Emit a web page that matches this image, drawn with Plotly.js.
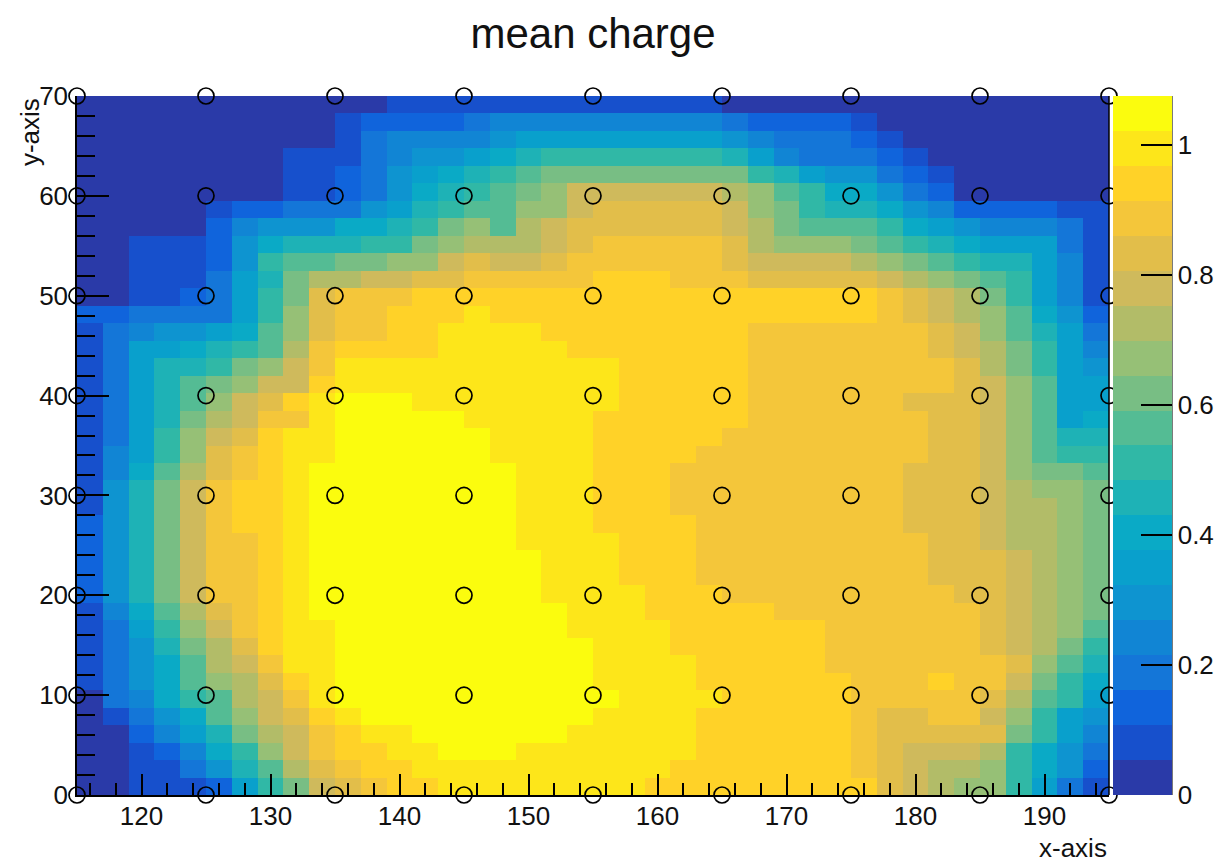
<!DOCTYPE html>
<html>
<head>
<meta charset="utf-8">
<script src="https://cdn.plot.ly/plotly-3.0.1.min.js"></script>
<style>html,body{margin:0;padding:0;background:#fff}#plot{width:1224px;height:862px}</style>
</head>
<body>
<div id="plot"></div>
<script>
// Palette band for every cell, top row of the picture first.
var bandRows = [
[0,0,0,0,0,0,0,0,0,0,0,0,1,1,1,1,1,1,1,1,1,1,1,1,1,0,0,0,0,0,0,0,0,0,0,0,0,0,0,0],
[0,0,0,0,0,0,0,0,0,0,1,2,2,2,2,3,4,4,4,4,4,4,4,4,4,3,2,2,2,2,1,0,0,0,0,0,0,0,0,0],
[0,0,0,0,0,0,0,0,0,0,1,3,4,4,4,4,5,6,6,6,6,6,6,6,6,5,4,3,3,3,2,1,0,0,0,0,0,0,0,0],
[0,0,0,0,0,0,0,0,1,1,1,3,4,5,5,6,7,8,9,9,9,9,9,9,9,8,6,4,3,3,3,2,1,0,0,0,0,0,0,0],
[0,0,0,0,0,0,0,0,1,1,2,3,5,6,7,8,9,10,11,11,11,11,11,11,11,11,9,8,6,5,5,3,2,1,0,0,0,0,0,0],
[0,0,0,0,0,0,0,0,1,1,2,3,5,7,8,9,10,11,12,14,14,14,14,14,14,13,12,10,9,7,7,5,3,2,0,0,0,0,0,0],
[0,0,0,0,0,1,2,2,3,3,3,5,6,8,9,10,10,12,12,14,15,15,15,15,15,14,12,11,9,8,8,7,5,4,2,2,2,2,1,1],
[0,0,0,0,0,2,4,5,5,5,7,7,8,9,11,12,10,13,14,15,15,15,15,15,15,14,13,11,10,10,10,9,7,6,5,4,4,4,3,1],
[0,0,1,1,1,2,5,7,8,8,8,9,9,11,12,13,13,13,14,15,16,16,16,16,16,15,13,12,12,12,11,10,9,8,7,6,6,6,3,1],
[0,0,1,1,1,2,5,9,10,10,11,11,12,12,14,15,14,14,15,16,16,16,16,16,16,15,14,14,14,14,13,12,11,10,9,8,8,6,4,1],
[0,0,1,1,1,3,6,8,11,13,13,14,14,15,15,16,16,16,16,16,17,17,17,16,16,16,15,15,15,15,15,14,13,12,11,10,9,6,4,1],
[0,0,1,1,2,3,6,9,11,15,16,16,16,17,17,17,17,17,17,17,17,17,17,17,17,17,17,17,17,17,17,16,15,14,13,11,9,6,4,1],
[2,2,3,3,3,3,6,9,12,15,16,16,17,17,17,18,17,17,17,17,17,17,17,17,17,17,17,17,17,17,17,16,15,14,13,12,10,7,5,2],
[1,3,4,5,5,6,7,10,12,15,16,16,17,17,18,18,18,18,17,17,17,17,17,17,17,17,16,16,16,16,16,16,16,15,14,12,10,8,6,3],
[1,3,6,6,7,8,9,10,13,16,17,17,17,17,18,18,18,18,18,17,17,17,17,17,17,17,16,16,16,16,16,16,16,15,14,13,11,9,6,4],
[1,3,6,8,8,9,11,12,14,16,18,18,18,18,18,18,18,18,18,18,18,17,17,17,17,17,16,16,16,16,16,16,16,16,15,13,11,9,6,5],
[1,3,6,8,10,11,12,14,14,17,18,18,18,18,18,18,18,18,18,18,18,17,17,17,17,17,16,16,16,16,16,16,16,16,15,14,12,10,6,6],
[1,3,6,8,10,12,14,15,17,18,19,19,19,18,18,18,18,18,18,18,18,17,17,17,17,17,16,16,16,16,16,16,15,15,15,14,12,10,6,6],
[1,3,6,8,11,13,14,16,16,18,19,19,19,19,19,18,18,18,18,18,17,17,17,17,17,17,16,16,16,16,16,16,16,15,15,14,12,10,6,7],
[1,3,6,9,12,14,15,17,18,18,19,19,19,19,19,19,18,18,18,18,17,17,17,17,17,16,16,16,16,16,16,16,16,15,15,14,12,10,8,8],
[1,4,6,9,12,15,16,17,18,18,19,19,19,19,19,19,18,18,18,18,17,17,17,17,16,16,16,16,16,16,16,16,16,15,15,14,12,10,9,9],
[1,4,7,10,13,15,16,17,18,19,19,19,19,19,19,19,19,18,18,18,17,17,17,16,16,16,16,16,16,16,16,16,15,15,15,14,12,11,11,10],
[1,5,8,11,14,16,17,17,18,19,19,19,19,19,19,19,19,18,18,18,17,17,17,16,16,16,16,16,16,16,16,16,15,15,15,14,13,12,12,11],
[1,5,8,11,14,16,17,17,18,19,19,19,19,19,19,19,19,18,18,18,17,17,17,16,16,16,16,16,16,16,16,16,15,15,15,14,13,13,12,11],
[2,5,8,11,14,16,17,17,18,19,19,19,19,19,19,19,19,18,18,18,17,17,17,17,16,16,16,16,16,16,16,16,15,15,15,14,13,13,12,11],
[2,5,8,11,14,16,16,17,18,19,19,19,19,19,19,19,19,18,18,18,18,17,17,17,16,16,16,16,16,16,16,16,16,15,15,14,13,13,12,11],
[2,5,8,11,14,16,16,17,18,19,19,19,19,19,19,19,19,19,18,18,18,17,17,17,16,16,16,16,16,16,16,16,16,15,15,15,14,13,12,11],
[2,5,8,11,14,16,16,17,18,19,19,19,19,19,19,19,19,19,18,18,18,17,17,17,16,16,16,16,16,16,16,16,16,15,15,15,14,13,12,11],
[2,5,8,11,14,16,16,17,18,19,19,19,19,19,19,19,19,19,18,18,18,18,17,17,17,16,16,16,16,16,16,16,16,16,15,15,14,13,12,11],
[1,4,7,10,13,15,16,17,18,19,19,19,19,19,19,19,19,19,19,18,18,18,17,17,17,17,17,16,16,16,16,16,16,16,16,15,14,13,12,11],
[1,3,6,9,12,14,16,17,18,18,19,19,19,19,19,19,19,19,19,18,18,18,18,17,17,17,17,17,17,16,16,16,16,16,16,15,14,13,12,10],
[1,3,5,8,11,13,15,17,18,18,19,19,19,19,19,19,19,19,19,19,18,18,18,17,17,17,17,17,17,16,16,16,16,16,16,15,14,13,11,9],
[1,3,5,7,10,13,14,16,18,18,19,19,19,19,19,19,19,19,19,19,18,18,18,18,17,17,17,17,17,16,16,16,16,16,16,16,15,12,10,8],
[1,3,5,7,10,12,13,15,17,18,19,19,19,19,19,19,19,19,19,19,18,18,18,18,17,17,17,17,17,17,16,16,16,17,16,16,14,11,9,7],
[0,3,4,7,9,10,13,14,16,18,19,19,19,19,19,19,19,19,19,19,19,18,18,18,18,17,17,17,17,17,16,16,16,16,16,15,13,10,9,6],
[0,1,3,5,7,10,12,14,15,17,18,19,19,19,19,19,19,19,19,19,18,18,18,18,17,17,17,17,17,17,16,15,15,16,16,14,12,9,6,5],
[0,0,2,4,6,8,11,13,14,16,17,18,18,19,19,19,19,19,19,18,18,18,18,18,17,17,17,17,17,17,16,15,15,15,15,15,11,9,6,4],
[0,0,1,2,4,7,9,12,14,16,17,17,18,18,19,19,19,18,18,18,18,18,18,18,17,17,17,17,17,17,16,15,14,14,14,13,9,7,5,3],
[0,0,1,1,3,5,8,10,13,15,16,17,17,18,18,18,18,18,18,18,18,18,18,17,17,17,17,17,17,17,16,15,14,13,13,12,9,7,5,2],
[0,0,1,1,1,2,6,9,11,14,15,16,17,17,18,18,18,18,18,18,18,18,17,17,17,17,17,17,17,17,17,15,14,13,12,12,9,6,3,1]
];
var bandColors = ['#2a3aa8','#1750cc','#1064dc','#1476d8','#1185d4','#0e94d0','#09a0cc','#0aaac6','#1eb2b6','#30b8a6',
                  '#54bc94','#78be84','#96c076','#b2bc68','#cfba5c','#e2be4a','#f4c63a','#ffd228','#fde61a','#fbfc0e'];
var zMax = 1.075;
var xFirstEdge = 115, xCellWidth = 2, yCellHeight = 1.75;
var pointX = [115,125,135,145,155,165,175,185,195];
var pointY = [0,10,20,30,40,50,60,70];
var barTicks = [0,0.2,0.4,0.6,0.8,1];
var barLabels = ['0','0.2','0.4','0.6','0.8','1'];

var bandSize = zMax / bandColors.length;
var z = bandRows.slice().reverse().map(function(r){
  return r.map(function(b){ return (b + 0.5) * bandSize; });
});
var scale = [];
bandColors.forEach(function(c,i){
  scale.push([i/bandColors.length, c]);
  scale.push([(i+1)/bandColors.length, c]);
});
var mx = [], my = [];
pointY.forEach(function(y){ pointX.forEach(function(x){ mx.push(x); my.push(y); }); });

var font = 'Liberation Sans, Arial, sans-serif';
var heat = {
  type:'heatmap', z:z,
  x0:xFirstEdge + xCellWidth/2, dx:xCellWidth,
  y0:yCellHeight/2, dy:yCellHeight,
  zmin:0, zmax:zMax, zsmooth:false, colorscale:scale, hoverinfo:'skip',
  colorbar:{
    x:1.0039, xanchor:'left', xpad:0, ypad:0, y:0.5, yanchor:'middle', len:1,
    thickness:59, thicknessmode:'pixels', outlinewidth:0,
    tickmode:'array', tickvals:barTicks, ticktext:barLabels,
    ticks:'inside', ticklen:31, tickwidth:1.5, tickcolor:'#000',
    tickfont:{family:font, size:26, color:'#111'}
  }
};
var pts = {
  type:'scatter', mode:'markers', x:mx, y:my, cliponaxis:false, hoverinfo:'skip', showlegend:false,
  marker:{symbol:'circle-open', size:16, color:'#000', line:{width:1.7, color:'#000'}}
};
var layout = {
  width:1224, height:862, paper_bgcolor:'#fff', plot_bgcolor:'#fff',
  margin:{l:77, r:115, t:96, b:67, autoexpand:false},
  showlegend:false,
  title:{text:'mean charge', x:593/1224, xanchor:'center', xref:'container', y:1-33/862, yanchor:'middle',
         font:{family:font, size:42, color:'#111'}},
  xaxis:{range:[115,195], tick0:0, dtick:10, ticks:'inside', ticklen:21, tickwidth:1.5, tickcolor:'#000',
         minor:{dtick:2, ticks:'inside', ticklen:12, tickwidth:1.5, tickcolor:'#000'},
         showline:true, linecolor:'#000', linewidth:1.5, showgrid:false, zeroline:false, layer:'above traces',
         ticklabelstandoff:-3,
         tickfont:{family:font, size:26, color:'#111'}},
  yaxis:{range:[0,70], tick0:0, dtick:10, ticks:'inside', ticklen:32, tickwidth:1.5, tickcolor:'#000',
         minor:{dtick:2, ticks:'inside', ticklen:18, tickwidth:1.5, tickcolor:'#000'},
         showline:true, linecolor:'#000', linewidth:1.5, showgrid:false, zeroline:false, layer:'above traces',
         ticklabelstandoff:2,
         tickfont:{family:font, size:26, color:'#111'}},
  shapes:[
    {type:'line', xref:'paper', yref:'paper', x0:1, x1:1, y0:0, y1:1, line:{color:'#000', width:1.5}, layer:'above'},
    {type:'line', xref:'paper', yref:'paper', x0:1.061, x1:1.061, y0:0, y1:1, line:{color:'#222', width:1.3}, layer:'above'}
  ],
  annotations:[
    {text:'x-axis', xref:'paper', yref:'paper', x:1, y:-0.0755, xanchor:'right', yanchor:'middle', showarrow:false,
     font:{family:font, size:26, color:'#111'}},
    {text:'y-axis', xref:'paper', yref:'paper', x:-0.0455, y:1, xanchor:'center', yanchor:'top', textangle:-90, showarrow:false,
     font:{family:font, size:26, color:'#111'}}
  ]
};
Plotly.newPlot('plot', [heat, pts], layout, {displayModeBar:false, responsive:false});
</script>
</body>
</html>
